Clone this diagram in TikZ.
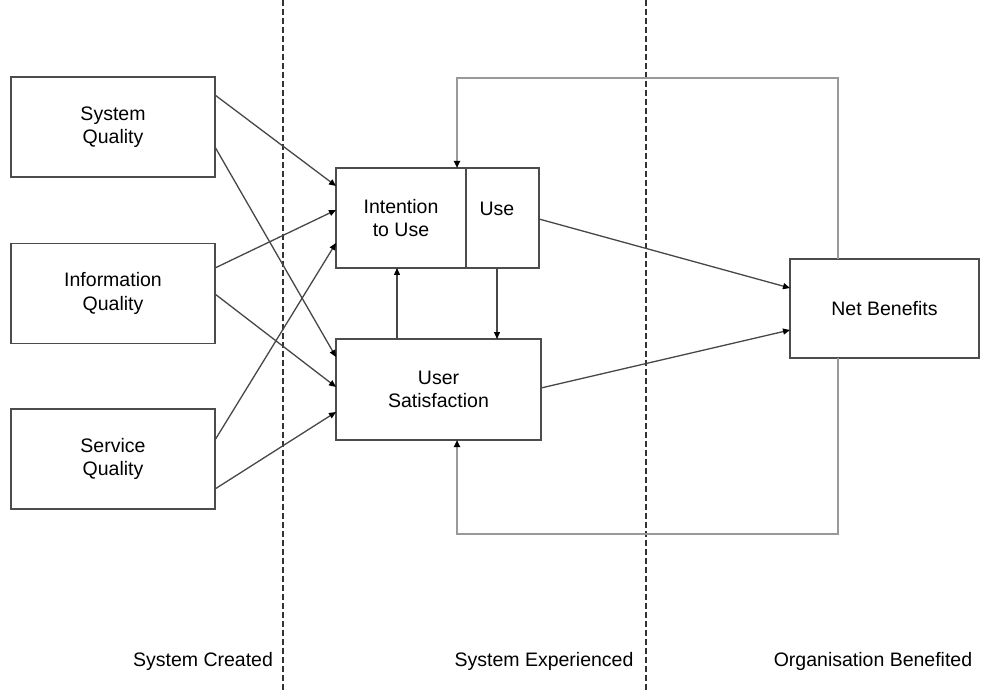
\documentclass[tikz,border=0pt]{standalone}
\usepackage{fontspec}
\setmainfont{Liberation Sans}
\usetikzlibrary{arrows.meta}

\begin{document}
\begin{tikzpicture}[x=1pt,y=-1pt,
  box/.style={draw=black!70, line width=1.8pt, fill=white, inner sep=0pt, outer sep=0pt,
    align=center, font=\fontsize{19.5}{23.5}\selectfont, minimum height=100pt},
  link/.style={draw=black!72, line width=1.3pt, -{Triangle[length=7pt,width=6pt,fill=black,color=black]}},
  loopback/.style={draw=black!40, line width=1.8pt, -{Triangle[length=7pt,width=6pt,fill=black,color=black]}},
  phase/.style={draw=black!80, line width=1.4pt, dash pattern=on 6pt off 3pt},
  caption/.style={font=\fontsize{19.5}{23.5}\selectfont, inner sep=0pt}]
\useasboundingbox (0,0) rectangle (981,692);

% phase separators
\coordinate (d1t) at (283,0);  \coordinate (d1b) at (283,692);
\coordinate (d2t) at (646,0);  \coordinate (d2b) at (646,692);
\draw[phase] (d1t) -- (d1b);
\draw[phase] (d2t) -- (d2b);

% quality dimensions
\node[box, minimum width=204pt] (sq)  at (113,127)   {System\\Quality};
\node[box, minimum width=204pt] (iq)  at (113,293.5) {Information\\Quality};
\node[box, minimum width=204pt] (svq) at (113,459)   {Service\\Quality};

% use and satisfaction
\node[box, minimum width=130pt] (itu) at (401,218) {Intention\\to Use};
\node[box, minimum width=73pt]  (use) at (502.5,218) {};
\node[font=\fontsize{19.5}{23.5}\selectfont, inner sep=0pt] (uselbl) at (497,209) {Use};
\node[box, minimum width=205pt, minimum height=101pt] (us) at (438.5,389.5) {User\\Satisfaction};

% outcome
\node[box, minimum width=189pt, minimum height=99pt] (nb) at (884.5,308.5) {Net Benefits};

% feedback loops
\coordinate (ft1) at (838,78);  \coordinate (ft2) at (457,78);
\coordinate (fb1) at (838,534); \coordinate (fb2) at (457,534);
\draw[loopback] (nb.north -| ft1) -- (ft1) -- (ft2) -- (itu.north -| ft2);
\draw[loopback] (nb.south -| fb1) -- (fb1) -- (fb2) -- (us.south -| fb2);

% quality -> intention / satisfaction
\draw[link] (sq.east |- 0,95)   -- (itu.west |- 0,186);
\draw[link] (sq.east |- 0,147)  -- (us.west |- 0,357);
\draw[link] (iq.east |- 0,268)  -- (itu.west |- 0,210);
\draw[link] (iq.east |- 0,294)  -- (us.west |- 0,387);
\draw[link] (svq.east |- 0,440) -- (itu.west |- 0,243);
\draw[link] (svq.east |- 0,489) -- (us.west |- 0,412);

% between use and satisfaction
\draw[link] (us.north -| 397,0)  -- (itu.south -| 397,0);
\draw[link] (use.south -| 497,0) -- (us.north -| 497,0);

% towards net benefits
\draw[link] (use.east |- 0,219) -- (nb.west |- 0,288);
\draw[link] (us.east |- 0,388)  -- (nb.west |- 0,330);

% phase captions
\node[caption] (c1) at (203,661) {System Created};
\node[caption] (c2) at (544,661) {System Experienced};
\node[caption] (c3) at (873,661) {Organisation Benefited};
\end{tikzpicture}
\end{document}
